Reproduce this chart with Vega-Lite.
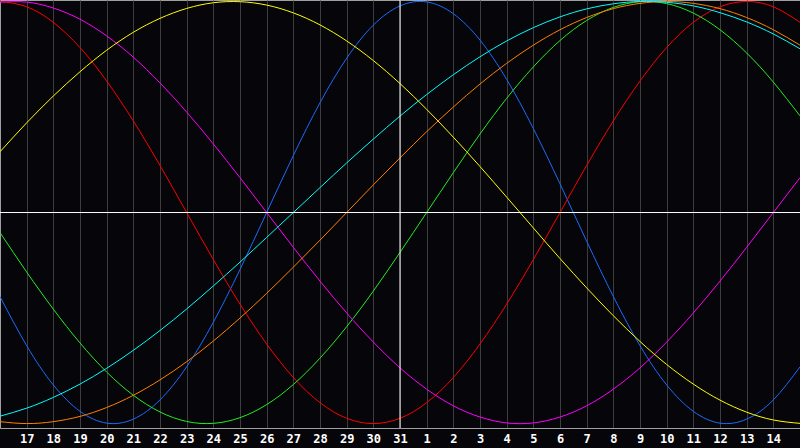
{
  "$schema": "https://vega.github.io/schema/vega-lite/v6.json",
  "width": 800,
  "height": 428,
  "padding": {"left": 0, "top": 0, "right": 0, "bottom": 20},
  "autosize": {"type": "none"},
  "background": "#060509",
  "config": {
    "view": {"stroke": "#a0a0a0", "strokeWidth": 1},
    "axis": {"domainColor": "#a0a0a0", "gridColor": "#3d3d3d", "gridWidth": 1}
  },
  "datasets": {
    "cycles": [
      {"cycle":"Physical","day":0,"value":-0.398},{"cycle":"Physical","day":1,"value":-0.631},{"cycle":"Physical","day":2,"value":-0.817},{"cycle":"Physical","day":3,"value":-0.942},{"cycle":"Physical","day":4,"value":-0.998},{"cycle":"Physical","day":5,"value":-0.979},{"cycle":"Physical","day":6,"value":-0.888},{"cycle":"Physical","day":7,"value":-0.731},{"cycle":"Physical","day":8,"value":-0.520},{"cycle":"Physical","day":9,"value":-0.270},{"cycle":"Physical","day":10,"value":0.000},{"cycle":"Physical","day":11,"value":0.270},{"cycle":"Physical","day":12,"value":0.520},{"cycle":"Physical","day":13,"value":0.731},{"cycle":"Physical","day":14,"value":0.888},{"cycle":"Physical","day":15,"value":0.979},{"cycle":"Physical","day":16,"value":0.998},{"cycle":"Physical","day":17,"value":0.942},{"cycle":"Physical","day":18,"value":0.817},{"cycle":"Physical","day":19,"value":0.631},{"cycle":"Physical","day":20,"value":0.398},{"cycle":"Physical","day":21,"value":0.136},{"cycle":"Physical","day":22,"value":-0.136},{"cycle":"Physical","day":23,"value":-0.398},{"cycle":"Physical","day":24,"value":-0.631},{"cycle":"Physical","day":25,"value":-0.817},{"cycle":"Physical","day":26,"value":-0.942},{"cycle":"Physical","day":27,"value":-0.998},{"cycle":"Physical","day":28,"value":-0.979},{"cycle":"Physical","day":29,"value":-0.888},{"cycle":"Physical","day":30,"value":-0.731},
      {"cycle":"Emotional","day":0,"value":1.000},{"cycle":"Emotional","day":1,"value":0.975},{"cycle":"Emotional","day":2,"value":0.901},{"cycle":"Emotional","day":3,"value":0.782},{"cycle":"Emotional","day":4,"value":0.623},{"cycle":"Emotional","day":5,"value":0.434},{"cycle":"Emotional","day":6,"value":0.223},{"cycle":"Emotional","day":7,"value":0.000},{"cycle":"Emotional","day":8,"value":-0.223},{"cycle":"Emotional","day":9,"value":-0.434},{"cycle":"Emotional","day":10,"value":-0.623},{"cycle":"Emotional","day":11,"value":-0.782},{"cycle":"Emotional","day":12,"value":-0.901},{"cycle":"Emotional","day":13,"value":-0.975},{"cycle":"Emotional","day":14,"value":-1.000},{"cycle":"Emotional","day":15,"value":-0.975},{"cycle":"Emotional","day":16,"value":-0.901},{"cycle":"Emotional","day":17,"value":-0.782},{"cycle":"Emotional","day":18,"value":-0.623},{"cycle":"Emotional","day":19,"value":-0.434},{"cycle":"Emotional","day":20,"value":-0.223},{"cycle":"Emotional","day":21,"value":0.000},{"cycle":"Emotional","day":22,"value":0.223},{"cycle":"Emotional","day":23,"value":0.434},{"cycle":"Emotional","day":24,"value":0.623},{"cycle":"Emotional","day":25,"value":0.782},{"cycle":"Emotional","day":26,"value":0.901},{"cycle":"Emotional","day":27,"value":0.975},{"cycle":"Emotional","day":28,"value":1.000},{"cycle":"Emotional","day":29,"value":0.975},{"cycle":"Emotional","day":30,"value":0.901},
      {"cycle":"Intellectual","day":0,"value":-0.095},{"cycle":"Intellectual","day":1,"value":-0.282},{"cycle":"Intellectual","day":2,"value":-0.458},{"cycle":"Intellectual","day":3,"value":-0.618},{"cycle":"Intellectual","day":4,"value":-0.756},{"cycle":"Intellectual","day":5,"value":-0.866},{"cycle":"Intellectual","day":6,"value":-0.945},{"cycle":"Intellectual","day":7,"value":-0.990},{"cycle":"Intellectual","day":8,"value":-0.999},{"cycle":"Intellectual","day":9,"value":-0.972},{"cycle":"Intellectual","day":10,"value":-0.910},{"cycle":"Intellectual","day":11,"value":-0.815},{"cycle":"Intellectual","day":12,"value":-0.690},{"cycle":"Intellectual","day":13,"value":-0.541},{"cycle":"Intellectual","day":14,"value":-0.372},{"cycle":"Intellectual","day":15,"value":-0.189},{"cycle":"Intellectual","day":16,"value":0.000},{"cycle":"Intellectual","day":17,"value":0.189},{"cycle":"Intellectual","day":18,"value":0.372},{"cycle":"Intellectual","day":19,"value":0.541},{"cycle":"Intellectual","day":20,"value":0.690},{"cycle":"Intellectual","day":21,"value":0.815},{"cycle":"Intellectual","day":22,"value":0.910},{"cycle":"Intellectual","day":23,"value":0.972},{"cycle":"Intellectual","day":24,"value":0.999},{"cycle":"Intellectual","day":25,"value":0.990},{"cycle":"Intellectual","day":26,"value":0.945},{"cycle":"Intellectual","day":27,"value":0.866},{"cycle":"Intellectual","day":28,"value":0.756},{"cycle":"Intellectual","day":29,"value":0.618},{"cycle":"Intellectual","day":30,"value":0.458},
      {"cycle":"Intuitive","day":0,"value":0.997},{"cycle":"Intuitive","day":1,"value":0.997},{"cycle":"Intuitive","day":2,"value":0.969},{"cycle":"Intuitive","day":3,"value":0.916},{"cycle":"Intuitive","day":4,"value":0.837},{"cycle":"Intuitive","day":5,"value":0.736},{"cycle":"Intuitive","day":6,"value":0.614},{"cycle":"Intuitive","day":7,"value":0.476},{"cycle":"Intuitive","day":8,"value":0.325},{"cycle":"Intuitive","day":9,"value":0.165},{"cycle":"Intuitive","day":10,"value":0.000},{"cycle":"Intuitive","day":11,"value":-0.165},{"cycle":"Intuitive","day":12,"value":-0.325},{"cycle":"Intuitive","day":13,"value":-0.476},{"cycle":"Intuitive","day":14,"value":-0.614},{"cycle":"Intuitive","day":15,"value":-0.736},{"cycle":"Intuitive","day":16,"value":-0.837},{"cycle":"Intuitive","day":17,"value":-0.916},{"cycle":"Intuitive","day":18,"value":-0.969},{"cycle":"Intuitive","day":19,"value":-0.997},{"cycle":"Intuitive","day":20,"value":-0.997},{"cycle":"Intuitive","day":21,"value":-0.969},{"cycle":"Intuitive","day":22,"value":-0.916},{"cycle":"Intuitive","day":23,"value":-0.837},{"cycle":"Intuitive","day":24,"value":-0.736},{"cycle":"Intuitive","day":25,"value":-0.614},{"cycle":"Intuitive","day":26,"value":-0.476},{"cycle":"Intuitive","day":27,"value":-0.325},{"cycle":"Intuitive","day":28,"value":-0.165},{"cycle":"Intuitive","day":29,"value":0.000},{"cycle":"Intuitive","day":30,"value":0.165},
      {"cycle":"Aesthetic","day":0,"value":0.288},{"cycle":"Aesthetic","day":1,"value":0.425},{"cycle":"Aesthetic","day":2,"value":0.552},{"cycle":"Aesthetic","day":3,"value":0.667},{"cycle":"Aesthetic","day":4,"value":0.769},{"cycle":"Aesthetic","day":5,"value":0.854},{"cycle":"Aesthetic","day":6,"value":0.920},{"cycle":"Aesthetic","day":7,"value":0.967},{"cycle":"Aesthetic","day":8,"value":0.994},{"cycle":"Aesthetic","day":9,"value":0.999},{"cycle":"Aesthetic","day":10,"value":0.983},{"cycle":"Aesthetic","day":11,"value":0.946},{"cycle":"Aesthetic","day":12,"value":0.889},{"cycle":"Aesthetic","day":13,"value":0.813},{"cycle":"Aesthetic","day":14,"value":0.720},{"cycle":"Aesthetic","day":15,"value":0.611},{"cycle":"Aesthetic","day":16,"value":0.489},{"cycle":"Aesthetic","day":17,"value":0.357},{"cycle":"Aesthetic","day":18,"value":0.218},{"cycle":"Aesthetic","day":19,"value":0.073},{"cycle":"Aesthetic","day":20,"value":-0.073},{"cycle":"Aesthetic","day":21,"value":-0.218},{"cycle":"Aesthetic","day":22,"value":-0.357},{"cycle":"Aesthetic","day":23,"value":-0.489},{"cycle":"Aesthetic","day":24,"value":-0.611},{"cycle":"Aesthetic","day":25,"value":-0.720},{"cycle":"Aesthetic","day":26,"value":-0.813},{"cycle":"Aesthetic","day":27,"value":-0.889},{"cycle":"Aesthetic","day":28,"value":-0.946},{"cycle":"Aesthetic","day":29,"value":-0.983},{"cycle":"Aesthetic","day":30,"value":-0.999},
      {"cycle":"Awareness","day":0,"value":-0.991},{"cycle":"Awareness","day":1,"value":-1.000},{"cycle":"Awareness","day":2,"value":-0.991},{"cycle":"Awareness","day":3,"value":-0.966},{"cycle":"Awareness","day":4,"value":-0.924},{"cycle":"Awareness","day":5,"value":-0.866},{"cycle":"Awareness","day":6,"value":-0.793},{"cycle":"Awareness","day":7,"value":-0.707},{"cycle":"Awareness","day":8,"value":-0.609},{"cycle":"Awareness","day":9,"value":-0.500},{"cycle":"Awareness","day":10,"value":-0.383},{"cycle":"Awareness","day":11,"value":-0.259},{"cycle":"Awareness","day":12,"value":-0.131},{"cycle":"Awareness","day":13,"value":0.000},{"cycle":"Awareness","day":14,"value":0.131},{"cycle":"Awareness","day":15,"value":0.259},{"cycle":"Awareness","day":16,"value":0.383},{"cycle":"Awareness","day":17,"value":0.500},{"cycle":"Awareness","day":18,"value":0.609},{"cycle":"Awareness","day":19,"value":0.707},{"cycle":"Awareness","day":20,"value":0.793},{"cycle":"Awareness","day":21,"value":0.866},{"cycle":"Awareness","day":22,"value":0.924},{"cycle":"Awareness","day":23,"value":0.966},{"cycle":"Awareness","day":24,"value":0.991},{"cycle":"Awareness","day":25,"value":1.000},{"cycle":"Awareness","day":26,"value":0.991},{"cycle":"Awareness","day":27,"value":0.966},{"cycle":"Awareness","day":28,"value":0.924},{"cycle":"Awareness","day":29,"value":0.866},{"cycle":"Awareness","day":30,"value":0.793},
      {"cycle":"Spiritual","day":0,"value":-0.965},{"cycle":"Spiritual","day":1,"value":-0.927},{"cycle":"Spiritual","day":2,"value":-0.876},{"cycle":"Spiritual","day":3,"value":-0.813},{"cycle":"Spiritual","day":4,"value":-0.738},{"cycle":"Spiritual","day":5,"value":-0.653},{"cycle":"Spiritual","day":6,"value":-0.559},{"cycle":"Spiritual","day":7,"value":-0.457},{"cycle":"Spiritual","day":8,"value":-0.348},{"cycle":"Spiritual","day":9,"value":-0.235},{"cycle":"Spiritual","day":10,"value":-0.118},{"cycle":"Spiritual","day":11,"value":0.000},{"cycle":"Spiritual","day":12,"value":0.118},{"cycle":"Spiritual","day":13,"value":0.235},{"cycle":"Spiritual","day":14,"value":0.348},{"cycle":"Spiritual","day":15,"value":0.457},{"cycle":"Spiritual","day":16,"value":0.559},{"cycle":"Spiritual","day":17,"value":0.653},{"cycle":"Spiritual","day":18,"value":0.738},{"cycle":"Spiritual","day":19,"value":0.813},{"cycle":"Spiritual","day":20,"value":0.876},{"cycle":"Spiritual","day":21,"value":0.927},{"cycle":"Spiritual","day":22,"value":0.965},{"cycle":"Spiritual","day":23,"value":0.989},{"cycle":"Spiritual","day":24,"value":1.000},{"cycle":"Spiritual","day":25,"value":0.996},{"cycle":"Spiritual","day":26,"value":0.979},{"cycle":"Spiritual","day":27,"value":0.947},{"cycle":"Spiritual","day":28,"value":0.903},{"cycle":"Spiritual","day":29,"value":0.846},{"cycle":"Spiritual","day":30,"value":0.776}
    ],
    "today": [{"day": 15}],
    "baseline": [{"value": 0}]
  },
  "layer": [
    {
      "data": {"name": "cycles"},
      "mark": {"type": "line", "interpolate": "natural", "strokeWidth": 1},
      "encoding": {
        "x": {
          "field": "day", "type": "quantitative",
          "scale": {"domain": [0, 30], "nice": false, "zero": false},
          "axis": {
            "title": null,
            "values": [1,2,3,4,5,6,7,8,9,10,11,12,13,14,15,16,17,18,19,20,21,22,23,24,25,26,27,28,29],
            "labelExpr": "datum.value <= 15 ? datum.value + 16 : datum.value - 15",
            "grid": true,
            "ticks": false,
            "labelPadding": 5,
            "labelColor": "#ffffff",
            "labelFont": "DejaVu Sans Mono",
            "labelFontWeight": "bold",
            "labelFontSize": 12,
            "labelOverlap": false,
            "labelFlush": false
          }
        },
        "y": {
          "field": "value", "type": "quantitative",
          "scale": {"domain": [-1.021, 1.007], "nice": false, "zero": false},
          "axis": null
        },
        "color": {
          "field": "cycle", "type": "nominal",
          "scale": {
            "domain": ["Physical", "Emotional", "Intellectual", "Intuitive", "Aesthetic", "Awareness", "Spiritual"],
            "range": ["#1a6cff", "#ff0000", "#22ee22", "#ff00ff", "#ffff00", "#ff8000", "#00ffff"]
          },
          "legend": null
        },
        "detail": {"field": "cycle"}
      }
    },
    {
      "data": {"name": "baseline"},
      "mark": {"type": "rule", "color": "#ffffff", "strokeWidth": 1},
      "encoding": {
        "y": {"field": "value", "type": "quantitative", "axis": null}
      }
    },
    {
      "data": {"name": "today"},
      "mark": {"type": "rule", "color": "#ffffff", "strokeWidth": 1},
      "encoding": {
        "x": {
          "field": "day", "type": "quantitative",
          "axis": {
            "title": null,
            "values": [1,2,3,4,5,6,7,8,9,10,11,12,13,14,15,16,17,18,19,20,21,22,23,24,25,26,27,28,29],
            "labelExpr": "datum.value <= 15 ? datum.value + 16 : datum.value - 15",
            "grid": true,
            "ticks": false,
            "labelPadding": 5,
            "labelColor": "#ffffff",
            "labelFont": "DejaVu Sans Mono",
            "labelFontWeight": "bold",
            "labelFontSize": 12,
            "labelOverlap": false,
            "labelFlush": false
          }
        }
      }
    }
  ]
}
